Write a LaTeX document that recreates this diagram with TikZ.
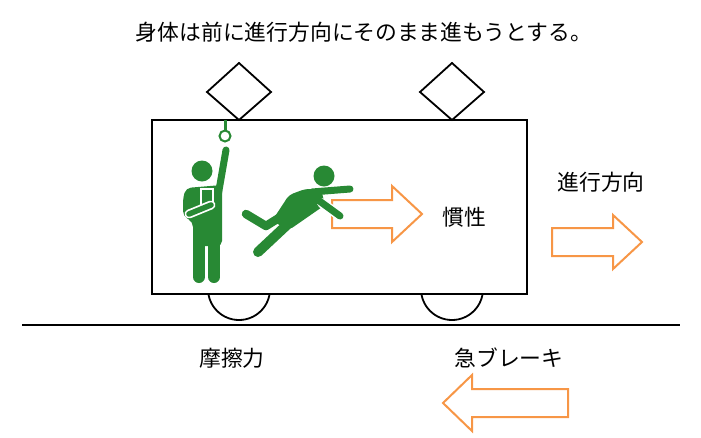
\documentclass[tikz,border=0pt]{standalone}
\usepackage{fontspec}
\newfontfamily\jp{Noto Sans CJK JP}
\definecolor{fig}{RGB}{40,137,52}
\definecolor{arr}{RGB}{247,150,70}
\tikzset{
  lbl/.style={font=\jp\fontsize{21.8}{26}\selectfont, inner sep=0pt},
  blk/.style={draw=black, line width=1.8pt},
  arrowshape/.style={draw=arr, fill=white, line width=2pt, line join=miter},
  limb/.style={draw=fig, line cap=round, line join=round},
}
\begin{document}
\begin{tikzpicture}[x=1pt,y=-1pt]
\useasboundingbox (0,0) rectangle (701,437);
% wheels
\begin{scope}
\clip (0,294) rectangle (701,437);
\draw[blk] (239,289) circle (31);
\draw[blk] (452,289) circle (31);
\end{scope}
% car body
\node[blk, fill=white, minimum width=375pt, minimum height=174pt, inner sep=0pt] (car) at (339.5,207) {};
% pantographs
\draw[blk] (207,92) -- (239,63) -- (271,92) -- (239,120) -- cycle;
\draw[blk] (420,92) -- (452,63) -- (484,92) -- (452,120) -- cycle;
% ground
\draw[black, line width=2pt] (22,325) -- (680,325);
% arrows
\draw[arrowshape] (332,200) -- (392,200) -- (392,186) -- (422,214) -- (392,242) -- (392,228) -- (332,228) -- cycle;
\draw[arrowshape] (552,228) -- (613,228) -- (613,215) -- (642,242) -- (613,269) -- (613,256) -- (552,256) -- cycle;
\draw[arrowshape] (568,389) -- (472,389) -- (472,375) -- (443,403) -- (472,431) -- (472,417) -- (568,417) -- cycle;
% strap handle
\draw[fig, line width=3pt] (225,120) -- (225,130);
\draw[fig, line width=2pt] (225,136) circle (5.5);
% standing person
\fill[fig] (202,171) circle (10.5);
\draw[limb, line width=7pt] (218,196) -- (226,150);
\fill[fig, rounded corners=5pt] (183,198) -- (186,188) -- (222,185) -- (222,246) -- (193,246) -- (193,222) -- (183,216) -- cycle;
\draw[limb, line width=12pt] (199,240) -- (199,277);
\draw[limb, line width=12pt] (214,240) -- (214,277);
\filldraw[fill=fig, draw=white, line width=1.2pt] (201,189) rectangle (213,205);
\draw[limb, draw=white, line width=9pt] (189,214) -- (211,205);
\draw[limb, line width=5.5pt] (189,214) -- (211,205);
% falling person
\fill[fig] (324,176) circle (10.5);
\draw[limb, line width=7pt] (312,192) -- (350,189);
\fill[fig, rounded corners=4pt] (289,195) -- (305,189) -- (321,189) -- (325,205) -- (289,230) -- (272,221) -- cycle;
\draw[limb, line width=8.5pt] (246,214) -- (266,226) -- (282,216);
\draw[limb, line width=10pt] (289,223) -- (258,252);
\draw[limb, draw=white, line width=10pt] (322,203) -- (340,216);
\draw[limb, line width=7pt] (318,200) -- (340,216);
% labels
\node[lbl] (title) at (364,32) {身体は前に進行方向にそのまま進もうとする。};
\node[lbl] (inertia) at (464,217) {慣性};
\node[lbl] (dir) at (601,182) {進行方向};
\node[lbl] (friction) at (232,358) {摩擦力};
\node[lbl] (brake) at (509,358) {急ブレーキ};
\end{tikzpicture}
\end{document}
